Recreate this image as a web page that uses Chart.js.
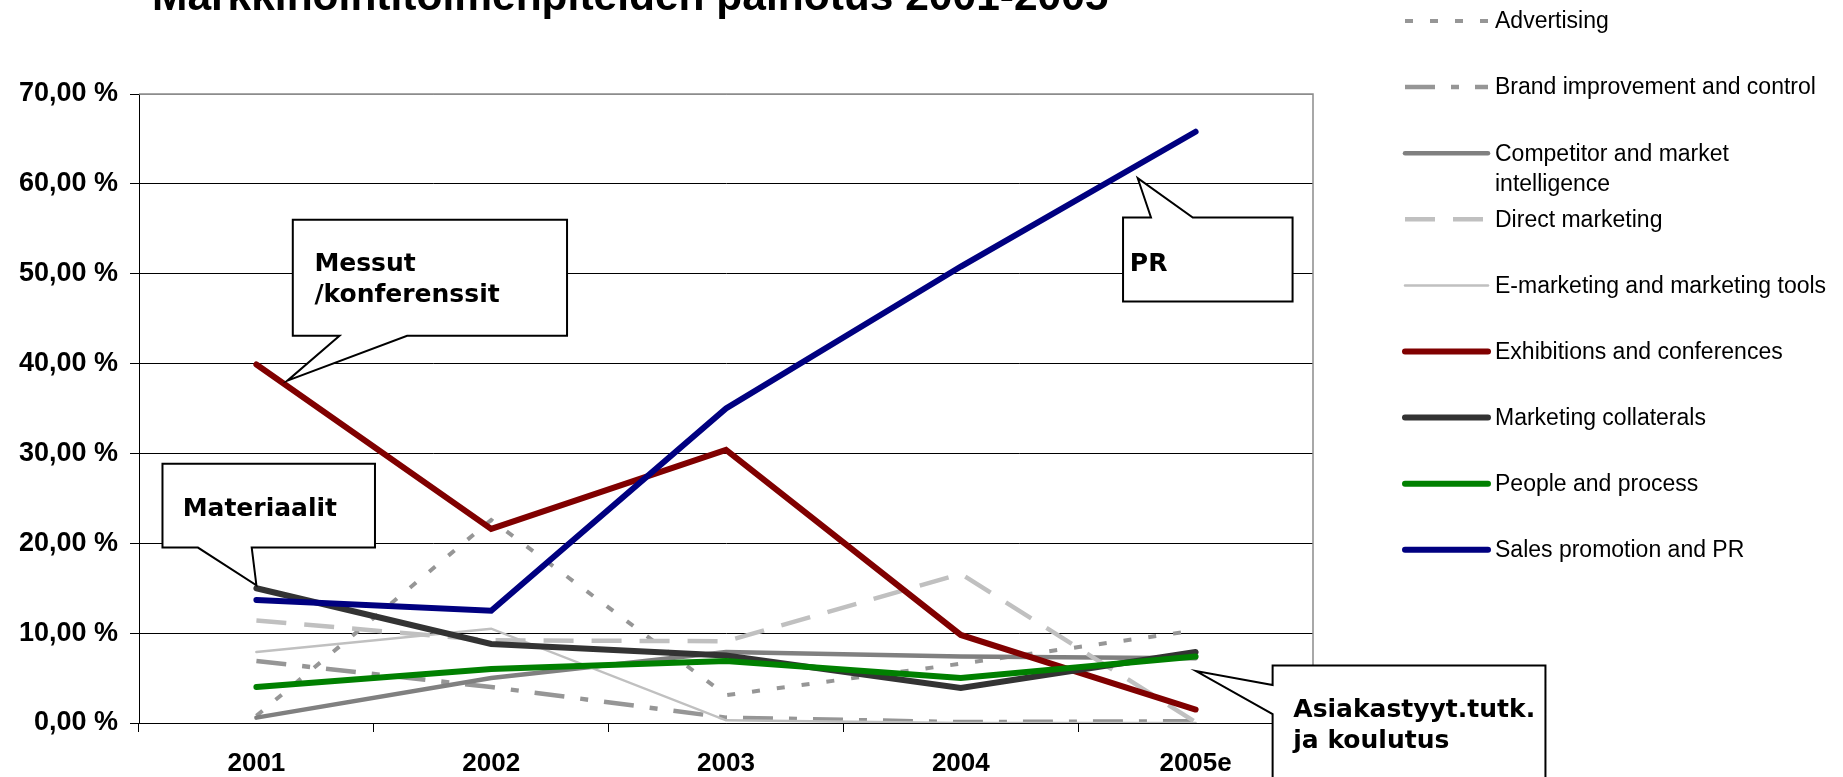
<!DOCTYPE html>
<html>
<head>
<meta charset="utf-8">
<script src="https://cdn.jsdelivr.net/npm/chart.js@4.4.1/dist/chart.umd.min.js"></script>
<style>
  html, body { margin: 0; padding: 0; background: #fff; }
  #wrap { position: relative; width: 1843px; height: 777px; }
</style>
</head>
<body>
<div id="wrap"><canvas id="chart" width="1843" height="777"></canvas></div>
<script>
// Data
const years = ["2001", "2002", "2003", "2004", "2005e"];
const seriesNames = [
    "Advertising",
    "Brand improvement and control",
    "Competitor and market intelligence",
    "Direct marketing",
    "E-marketing and marketing tools",
    "Exhibitions and conferences",
    "Marketing collaterals",
    "People and process",
    "Sales promotion and PR"
];
const advertising = [0.8, 22.6, 3.1, 6.6, 10.3];
const brandImprovement = [6.9, 4.0, 0.6, 0.1, 0.2];
const competitorIntel = [0.6, 5.0, 7.9, 7.4, 7.2];
const directMarketing = [11.4, 9.2, 9.1, 16.6, 0.1];
const eMarketing = [7.9, 10.5, 0.3, 0.0, 0.0];
const exhibitions = [39.9, 21.6, 30.4, 9.8, 1.5];
const collaterals = [15.0, 8.8, 7.5, 3.9, 7.9];
const peopleProcess = [4.0, 6.0, 6.9, 5.0, 7.4];
const salesPromotionPR = [13.7, 12.5, 35.0, 50.8, 65.8];
const yTickLabels = ["0,00 %", "10,00 %", "20,00 %", "30,00 %", "40,00 %", "50,00 %", "60,00 %", "70,00 %"];
const chartTitle = "Markkinointitoimenpiteiden painotus 2001-2005";

const seriesValues = [advertising, brandImprovement, competitorIntel, directMarketing, eMarketing,
    exhibitions, collaterals, peopleProcess, salesPromotionPR];

// Line styles (Excel-ish)
const lineStyles = [
    { color: "#969696", width: 4, dash: [8, 17] },
    { color: "#969696", width: 4.5, dash: [30, 16, 8, 16] },
    { color: "#808080", width: 4.5, dash: [] },
    { color: "#C0C0C0", width: 4.5, dash: [30, 18] },
    { color: "#C0C0C0", width: 2.5, dash: [] },
    { color: "#800000", width: 6, dash: [] },
    { color: "#333333", width: 6, dash: [] },
    { color: "#008000", width: 6, dash: [] },
    { color: "#000080", width: 6, dash: [] }
];

// Callouts in data space: x = category index, y = percent
const callouts = [
    { lines: ["Messut", "/konferenssit"], at: [0.247, 50.26],
      shape: [[0.155, 56.0], [1.323, 56.0], [1.323, 43.1], [0.642, 43.1], [0.132, 38.1], [0.354, 43.1], [0.155, 43.1]] },
    { lines: ["Materiaalit"], at: [-0.314, 23.0],
      shape: [[-0.40, 28.86], [0.505, 28.86], [0.505, 19.52], [-0.02, 19.52], [0.0, 15.33], [-0.249, 19.52], [-0.40, 19.52]] },
    { lines: ["PR"], at: [3.72, 50.33],
      shape: [[3.691, 56.26], [3.81, 56.26], [3.7535, 60.63], [3.988, 56.26], [4.413, 56.26], [4.413, 46.92], [3.691, 46.92]] },
    { lines: ["Asiakastyyt.tutk.", "ja koulutus"], at: [4.416, 0.63],
      shape: [[4.328, 6.41], [5.49, 6.41], [5.49, -7], [4.328, -7], [4.328, 1.0], [4.002, 5.78], [4.328, 4.22]] }
];

// Title, plot frame, callouts and the side legend
const decorPlugin = {
    id: "decor",
    beforeDatasetsDraw(chart) {
        const ctx = chart.ctx;
        const a = chart.chartArea;
        ctx.save();
        ctx.strokeStyle = "#8c8c8c";
        ctx.lineWidth = 1.5;
        ctx.beginPath();
        ctx.moveTo(a.left, a.top);
        ctx.lineTo(a.right, a.top);
        ctx.lineTo(a.right, a.bottom);
        ctx.stroke();
        ctx.restore();
    },
    afterDatasetsDraw(chart) {
        const ctx = chart.ctx;
        const xs = chart.scales.x, ys = chart.scales.y;
        ctx.save();
        callouts.forEach(c => {
            ctx.beginPath();
            c.shape.forEach((p, k) => {
                const px = xs.getPixelForValue(p[0]), py = ys.getPixelForValue(p[1]);
                if (k === 0) ctx.moveTo(px, py); else ctx.lineTo(px, py);
            });
            ctx.closePath();
            ctx.fillStyle = "#fff";
            ctx.fill();
            ctx.strokeStyle = "#000";
            ctx.lineWidth = 2;
            ctx.stroke();
            ctx.fillStyle = "#000";
            ctx.font = 'bold 25px "DejaVu Sans"';
            ctx.textBaseline = "alphabetic";
            ctx.textAlign = "left";
            const tx = xs.getPixelForValue(c.at[0]), ty = ys.getPixelForValue(c.at[1]);
            c.lines.forEach((t, k) => ctx.fillText(t, tx, ty + k * 31));
        });
        ctx.restore();
    },
    afterDraw(chart) {
        const ctx = chart.ctx;
        ctx.save();
        // title (partly above the page edge, as in the original)
        ctx.fillStyle = "#000";
        ctx.font = 'bold 42.5px "Liberation Sans"';
        ctx.textAlign = "left";
        ctx.textBaseline = "alphabetic";
        ctx.fillText(chartTitle, 152, 10);

        // legend
        ctx.font = '23px "Liberation Sans"';
        ctx.textBaseline = "middle";
        chart.data.datasets.forEach((ds, i) => {
            const y = 21 + i * 66.1;
            ctx.beginPath();
            ctx.strokeStyle = ds.borderColor;
            ctx.lineWidth = ds.borderWidth;
            ctx.setLineDash(ds.borderDash);
            ctx.lineCap = ds.borderDash.length ? "butt" : "round";
            ctx.moveTo(1405, y);
            ctx.lineTo(1488, y);
            ctx.stroke();
            ctx.setLineDash([]);
            // word wrap
            const words = ds.label.split(" ");
            let line = "", rows = [];
            words.forEach(w => {
                const test = line ? line + " " + w : w;
                if (ctx.measureText(test).width > 340 && line) { rows.push(line); line = w; }
                else line = test;
            });
            rows.push(line);
            ctx.fillStyle = "#000";
            rows.forEach((r, k) => ctx.fillText(r, 1495, y + 1 + k * 30));
        });
        ctx.restore();
    }
};

const datasets = seriesNames.map((name, i) => ({
    label: name,
    data: seriesValues[i],
    borderColor: lineStyles[i].color,
    backgroundColor: lineStyles[i].color,
    borderWidth: lineStyles[i].width,
    borderDash: lineStyles[i].dash,
    borderCapStyle: lineStyles[i].dash.length ? "butt" : "round",
    pointRadius: 0,
    fill: false,
    tension: 0,
    order: seriesNames.length - i
}));

new Chart(document.getElementById("chart").getContext("2d"), {
    type: "line",
    data: { labels: years, datasets: datasets },
    options: {
        responsive: false,
        animation: false,
        devicePixelRatio: 1,
        layout: { padding: { top: 94, right: 530, left: 0, bottom: 0 } },
        plugins: {
            legend: { display: false },
            title: { display: false },
            tooltip: { enabled: false }
        },
        scales: {
            x: {
                offset: true,
                afterFit(scale) { scale.height = 54; },
                grid: { offset: true, drawOnChartArea: false, drawTicks: true, tickLength: 9, color: "#000" },
                border: { color: "#000", width: 1 },
                ticks: {
                    color: "#000",
                    padding: 16,
                    maxRotation: 0,
                    font: { family: "Liberation Sans", size: 26, weight: "bold" }
                }
            },
            y: {
                min: 0,
                max: 70,
                afterFit(scale) { scale.width = 139; },
                grid: {
                    color: c => (c.tick && c.tick.value === 70 ? "#8c8c8c" : "#000"),
                    tickColor: "#000",
                    lineWidth: 1,
                    tickLength: 9
                },
                border: { color: "#000", width: 1 },
                ticks: {
                    stepSize: 10,
                    color: "#000",
                    padding: 12,
                    font: { family: "Liberation Sans", size: 27, weight: "bold" },
                    callback: (v) => yTickLabels[Math.round(v / 10)]
                }
            }
        }
    },
    plugins: [decorPlugin]
});
</script>
</body>
</html>
